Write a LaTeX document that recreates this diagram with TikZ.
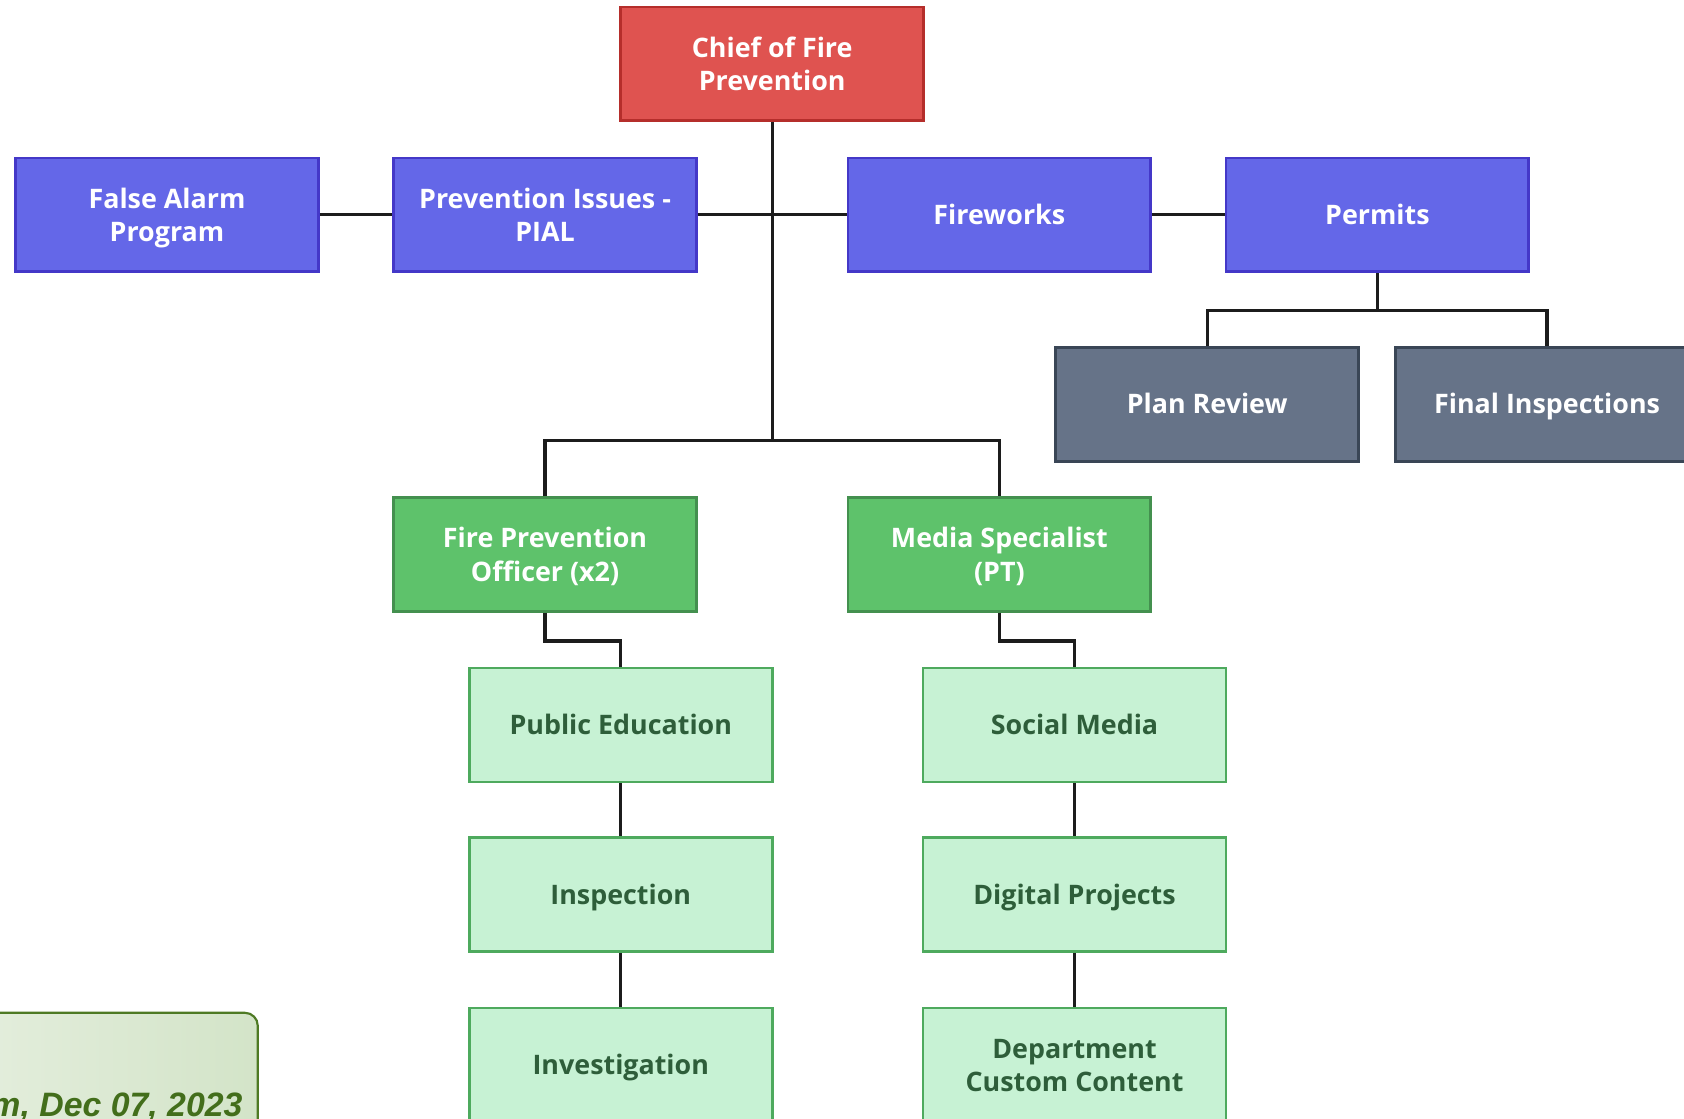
\documentclass[tikz,border=0pt]{standalone}
\usepackage{fontspec}
\setmainfont{Open Sans}
\newfontfamily\datefont{Liberation Sans}
\newcommand\bxstrut{\rule{0pt}{24.5pt}}
\newcommand\twolines[1]{\raisebox{6pt}[\height][\depth]{\begin{tabular}{@{}c@{}}#1\end{tabular}}}
\definecolor{redF}{HTML}{DF5350}
\definecolor{redB}{HTML}{B52E2B}
\definecolor{blueF}{HTML}{6467E8}
\definecolor{blueB}{HTML}{4438C8}
\definecolor{grayF}{HTML}{667388}
\definecolor{grayB}{HTML}{3A4656}
\definecolor{greenF}{HTML}{5EC26B}
\definecolor{greenB}{HTML}{44904F}
\definecolor{lgreenF}{HTML}{C7F2D4}
\definecolor{lgreenB}{HTML}{4EAA5E}
\definecolor{lgreenT}{HTML}{2E5E3A}
\definecolor{lineC}{HTML}{1C1C1C}
\definecolor{dateL}{HTML}{E4EEDD}
\definecolor{dateR}{HTML}{D3E4C8}
\definecolor{dateB}{HTML}{4E7A24}
\definecolor{dateT}{HTML}{436E1B}
\begin{document}
\begin{tikzpicture}[x=1pt,y=-1pt,
  box/.style={rectangle, minimum width=282pt, minimum height=106pt, align=center, inner sep=0pt,
    font=\bfseries\fontsize{25}{31.5}\selectfont, line width=2.5pt,
    execute at begin node=\bxstrut, text depth=7pt},
  chiefbox/.style={box, fill=redF, draw=redB, text=white},
  bluebox/.style={box, fill=blueF, draw=blueB, text=white},
  graybox/.style={box, fill=grayF, draw=grayB, text=white},
  greenbox/.style={box, fill=greenF, draw=greenB, text=white},
  lightbox/.style={box, fill=lgreenF, draw=lgreenB, text=lgreenT},
  conn/.style={draw=lineC, line width=3pt}]
\useasboundingbox (0,0) rectangle (1568,1041);
\clip (0,0) rectangle (1568,1041);

\node[chiefbox] (chief) at (719,59.5) {\twolines{Chief of Fire\\Prevention}};

\node[bluebox] (fa) at (155.5,200) {\twolines{False Alarm\\Program}};
\node[bluebox] (pial) at (507.5,200) {\twolines{Prevention Issues -\\PIAL}};
\node[bluebox] (fw) at (930.5,200) {Fireworks};
\node[bluebox] (permits) at (1282.5,200) {Permits};

\node[graybox] (plan) at (1124,376.5) {Plan Review};
\node[graybox] (final) at (1440.5,376.5) {Final Inspections};

\node[greenbox] (fpo) at (507.5,516.5) {\twolines{Fire Prevention\\Officer (x2)}};
\node[greenbox] (media) at (930.5,516.5) {\twolines{Media Specialist\\(PT)}};

\node[lightbox] (pubed) at (578,675) {Public Education};
\node[lightbox] (insp) at (578,833) {Inspection};
\node[lightbox] (invest) at (578,991.5) {Investigation};

\node[lightbox] (social) at (1000.5,675) {Social Media};
\node[lightbox] (digital) at (1000.5,833) {Digital Projects};
\node[lightbox] (dept) at (1000.5,991.5) {\twolines{Department\\Custom Content}};

\coordinate (hub) at (719,410);
\coordinate (pj) at (1282.5,289);

\draw[conn] (chief.south) -- (hub);
\draw[conn] (fa.east) -- (pial.west);
\draw[conn] (pial.east) -- (fw.west);
\draw[conn] (fw.east) -- (permits.west);
\draw[conn] (permits.south) -- (pj);
\draw[conn] (plan.north) |- (pj) -| (final.north);
\draw[conn] (fpo.north) |- (hub) -| (media.north);
\draw[conn] (fpo.south) -- ++(0,26) -| (pubed.north);
\draw[conn] (media.south) -- ++(0,26) -| (social.north);
\draw[conn] (pubed.south) -- (insp.north);
\draw[conn] (insp.south) -- (invest.north);
\draw[conn] (social.south) -- (digital.north);
\draw[conn] (digital.south) -- (dept.north);

\draw[rounded corners=12pt, left color=dateL, right color=dateR, draw=dateB, line width=2pt]
  (-30,943) rectangle (240,1100);
\node[anchor=base east, inner sep=0pt, text=dateT, font=\datefont\bfseries\itshape\fontsize{31.5}{35}\selectfont]
  (date) at (226,1040) {m, Dec 07, 2023};
\end{tikzpicture}
\end{document}
